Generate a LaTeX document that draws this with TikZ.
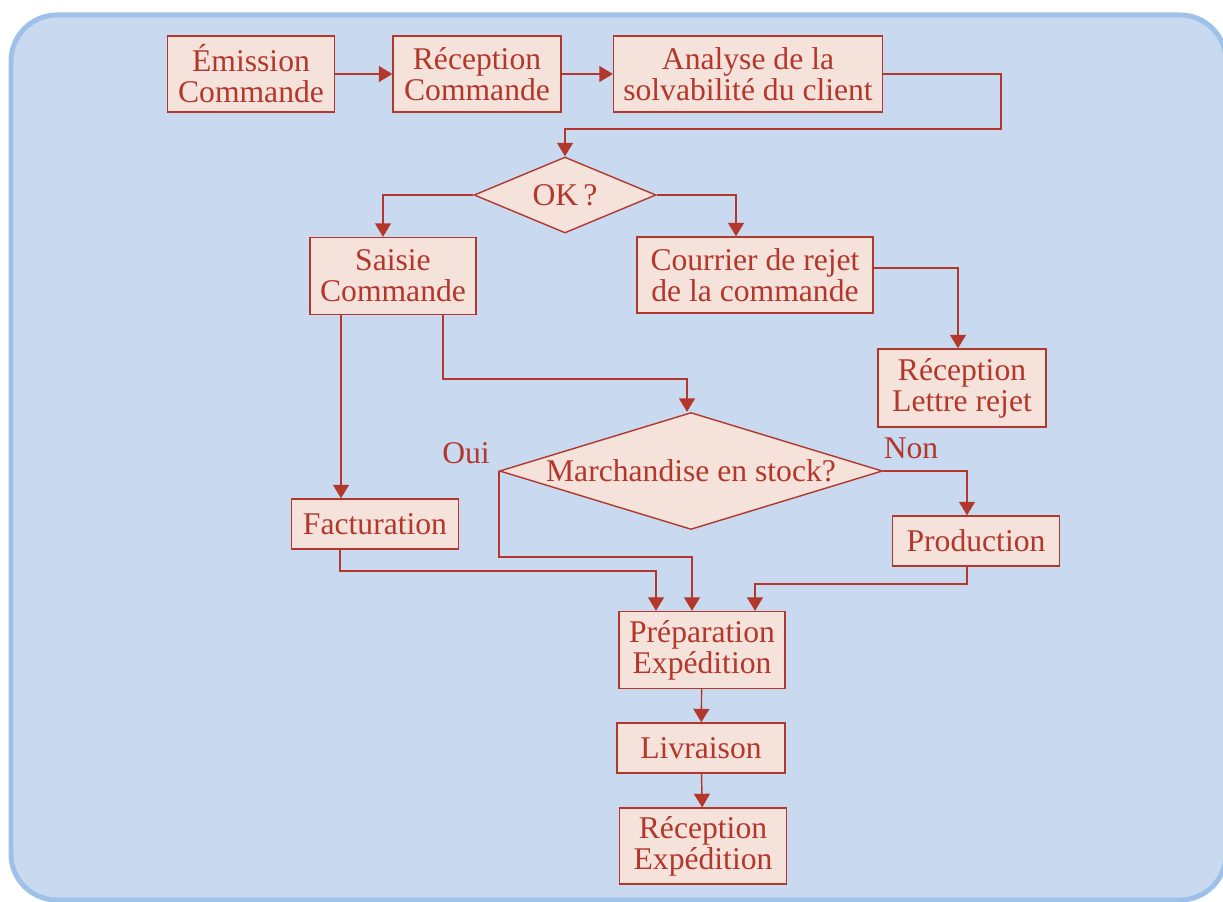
\documentclass[tikz,border=0pt]{standalone}
\usepackage{fontspec}
\setmainfont{Liberation Serif}
\usetikzlibrary{arrows.meta,shapes.geometric,calc}
\definecolor{frameFill}{HTML}{C9DAF0}
\definecolor{frameLine}{HTML}{9DC1E8}
\definecolor{boxFill}{HTML}{F5E2DA}
\definecolor{ink}{HTML}{B3372B}
\begin{document}
\begin{tikzpicture}[x=0.02cm,y=-0.02cm,
  every node/.style={font=\fontsize{18}{17.6}\selectfont, text=ink},
  box/.style={draw=ink, fill=boxFill, line width=0.8pt, align=center, inner sep=0pt},
  dia/.style={diamond, draw=ink, fill=boxFill, line width=0.8pt, inner sep=0pt, aspect=1},
  arr/.style={draw=ink, line width=0.8pt, -{Triangle[width=0.32cm,length=0.27cm]}},
  lbl/.style={inner sep=0pt}]
\useasboundingbox (0,0) rectangle (1223,902);
\clip (0,0) rectangle (1223,902);
\draw[fill=frameFill, draw=frameLine, line width=0.1cm, rounded corners=0.92cm] (11,15) rectangle (1226,900);

% nodes
\node[box, minimum width=3.34cm, minimum height=1.52cm] (e1) at (251,74) {Émission\\Commande};
\node[box, minimum width=3.36cm, minimum height=1.52cm] (e2) at (477,74) {Réception\\Commande};
\node[box, minimum width=5.38cm, minimum height=1.52cm] (e3) at (748,74) {Analyse de la\\solvabilité du client};
\node[dia, minimum width=3.64cm, minimum height=1.52cm] (ok) at (565,195) {\makebox[0pt]{OK\,?}};
\node[box, minimum width=3.32cm, minimum height=1.54cm] (saisie) at (393,276) {Saisie\\Commande};
\node[box, minimum width=4.72cm, minimum height=1.52cm] (courrier) at (755,275) {Courrier de rejet\\de la commande};
\node[box, minimum width=3.36cm, minimum height=1.56cm] (rl) at (962,388) {Réception\\Lettre rejet};
\node[dia, minimum width=7.66cm, minimum height=2.34cm] (m) at (691,471) {\makebox[0pt]{Marchandise en stock?}};
\node[lbl] (oui) at (466,453) {Oui};
\node[lbl] (non) at (911,448) {Non};
\node[box, minimum width=3.34cm, minimum height=1.0cm] (fact) at (375,524) {Facturation};
\node[box, minimum width=3.34cm, minimum height=1.0cm] (prod) at (976,541) {Production};
\node[box, minimum width=3.32cm, minimum height=1.54cm] (prep) at (702,650) {Préparation\\Expédition};
\node[box, minimum width=3.36cm, minimum height=1.0cm] (liv) at (701,748) {Livraison};
\node[box, minimum width=3.34cm, minimum height=1.52cm] (re) at (703,846) {Réception\\Expédition};

% helper coordinates
\coordinate (c1) at (1001,129);
\coordinate (c2) at (687,379);
\coordinate (c3) at (692,557);
\coordinate (c4) at (656,571);
\coordinate (c5) at (755,584);

% connectors
\draw[arr] (e1) -- (e2);
\draw[arr] (e2) -- (e3);
\draw[arr] (e3.east) -| (c1) -| (ok.north);
\draw[arr] (ok.west) -| ($(saisie.north)+(-10,0)$);
\draw[arr] (ok.east) -| ($(courrier.north)+(-19,0)$);
\draw[arr] ($(courrier.east)+(0,-7)$) -| ($(rl.north)+(-4,0)$);
\draw[arr] ($(saisie.south)+(-52,0)$) coordinate (s1) -- (s1 |- fact.north);
\draw[arr] ($(saisie.south)+(50,0)$) |- (c2) -- (c2 |- m.north);
\draw[arr] (m.west) |- (c3) -- (c3 |- prep.north);
\draw[arr] (m.east) -| ($(prod.north)+(-9,0)$);
\draw[arr] ($(fact.south)+(-35,0)$) |- (c4) -- (c4 |- prep.north);
\draw[arr] ($(prod.south)+(-9,0)$) |- (c5) -- (c5 |- prep.north);
\draw[arr] (prep) -- (liv);
\draw[arr] (liv) -- (re);
\end{tikzpicture}
\end{document}
